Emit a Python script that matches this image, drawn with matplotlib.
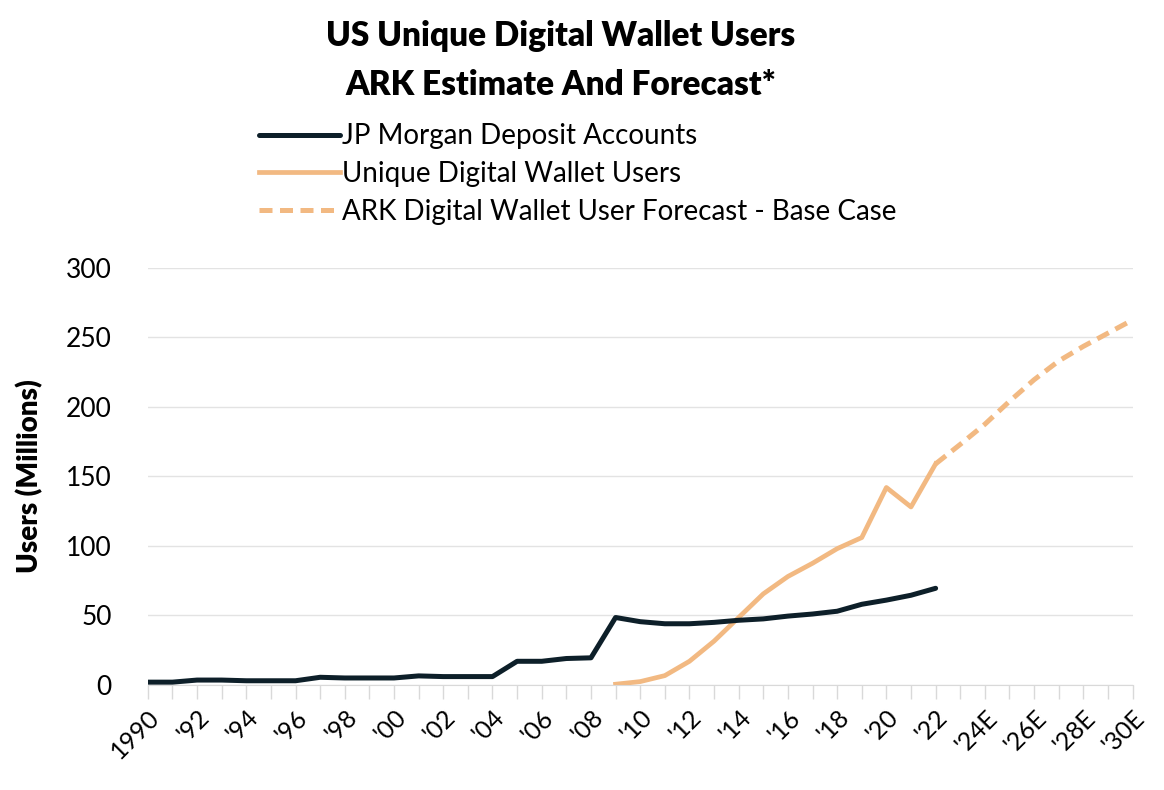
import numpy as np
import matplotlib
matplotlib.use("Agg")
import matplotlib.pyplot as plt

plt.rcParams['font.family'] = ['Lato', 'DejaVu Sans']

# data
jpm_years = list(range(1990, 2023))
jpm_users = [2, 2, 3.5, 3.5, 3, 3, 3, 5.5, 5, 5, 5, 6.5, 6, 6, 6,
             17, 17, 19, 19.5, 48.5, 45.5, 44, 44, 45, 46.5, 47.5, 49.5,
             51, 53, 58, 61, 64.5, 69.5]

wallet_years = list(range(2009, 2023))
wallet_users = [0.5, 2.4, 6.7, 17, 31.5, 48.5, 65.5, 78, 87.5, 98, 106,
                142, 128, 159]

fc_years = list(range(2022, 2031))
fc_users = [159, 173, 187.5, 204, 219.5, 233, 243.5, 253, 262.5]

tick_years = list(range(1990, 2031, 2))
tick_labels = ['1990', "'92", "'94", "'96", "'98", "'00", "'02", "'04", "'06",
               "'08", "'10", "'12", "'14", "'16", "'18", "'20", "'22",
               "'24E", "'26E", "'28E", "'30E"]

navy = '#0d1f29'
orange = '#f2b982'

fig = plt.figure(figsize=(11.64, 7.9), dpi=100)
ax = fig.add_axes([0.127, 0.133, 0.846, 0.528])

l1, = ax.plot(jpm_years, jpm_users, color=navy, lw=3.6, solid_capstyle='round',
              label='JP Morgan Deposit Accounts', zorder=3)
l2, = ax.plot(wallet_years, wallet_users, color=orange, lw=3.4,
              label='Unique Digital Wallet Users', zorder=2)
l3, = ax.plot(fc_years, fc_users, color=orange, lw=3.6, ls=(0, (2.6, 1.5)),
              label='ARK Digital Wallet User Forecast - Base Case', zorder=2)

ax.set_xlim(1990, 2030)
ax.set_ylim(0, 300)
ax.set_yticks(range(0, 301, 50))
ax.set_xticks(tick_years)
ax.set_xticklabels(tick_labels, rotation=45, ha='right', rotation_mode='anchor')
ax.set_xticks(range(1990, 2031), minor=True)
ax.tick_params(axis='x', which='both', length=10, color='#d9d9d9', width=1,
               labelsize=18, pad=5)
ax.tick_params(axis='y', length=0, labelsize=19, pad=26)
ax.grid(axis='y', color='#e3e3e3', lw=1)
ax.set_axisbelow(True)
for s in ['top', 'right', 'left']:
    ax.spines[s].set_visible(False)
ax.spines['bottom'].set_color('#d9d9d9')
ax.set_ylabel('Users (Millions)', fontsize=20, fontweight='heavy', labelpad=16)

fig.text(0.482, 0.955, 'US Unique Digital Wallet Users', ha='center',
         va='center', fontsize=24, fontweight='heavy')
fig.text(0.482, 0.892, 'ARK Estimate And Forecast*', ha='center',
         va='center', fontsize=24, fontweight='heavy')

fig.legend(handles=[l1, l2, l3], loc='upper left',
           bbox_to_anchor=(0.213, 0.858), frameon=False, fontsize=20,
           handlelength=2.9, handletextpad=0.08, labelspacing=0.42,
           borderaxespad=0)

fig.savefig('out.png', dpi=100)
